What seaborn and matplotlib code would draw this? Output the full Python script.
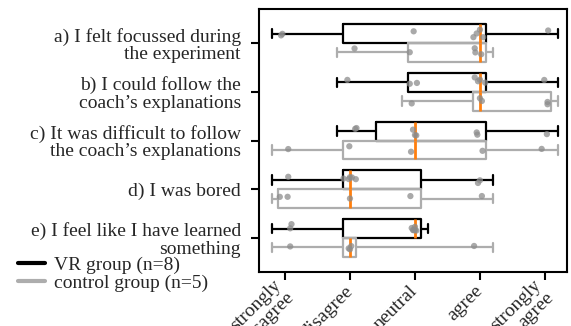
import numpy as np
import pandas as pd
import seaborn as sns
import matplotlib
matplotlib.use("Agg")
import matplotlib.pyplot as plt
from matplotlib.lines import Line2D

questions = [
    "a) I felt focussed during\nthe experiment",
    "b) I could follow the\ncoach\u2019s explanations",
    "c) It was difficult to follow\nthe coach\u2019s explanations",
    "d) I was bored",
    "e) I feel like I have learned\nsomething",
]
scale_labels = ["strongly\ndisagree", "disagree", "neutral", "agree", "strongly\nagree"]
groups = ["VR group (n=8)", "control group (n=5)"]

# box summaries as drawn: whisker low, box low, median, box high, whisker high
vr_boxes = [
    [0.8, 1.9, 4.0, 4.1, 5.2],
    [1.8, 2.9, 4.0, 4.1, 5.2],
    [1.8, 2.4, 3.0, 4.1, 5.2],
    [0.8, 1.9, 2.0, 3.1, 4.2],
    [0.8, 1.9, 3.0, 3.1, 3.2],
]
control_boxes = [
    [1.8, 2.9, 4.0, 4.1, 4.2],
    [2.8, 3.9, 4.0, 5.1, 5.2],
    [0.8, 1.9, 3.0, 4.1, 5.2],
    [0.8, 0.9, 2.0, 3.1, 4.2],
    [0.8, 1.9, 2.0, 2.1, 4.2],
]

# single answers (dots)
vr_answers = [
    [0.96, 0.94, 2.98, 3.95, 3.90, 4.05, 4.00, 5.05],
    [1.96, 2.92, 3.03, 3.92, 4.08, 4.00, 3.97, 4.99],
    [2.08, 2.10, 2.97, 3.00, 3.02, 3.95, 3.96, 5.03],
    [1.05, 1.90, 2.09, 2.00, 2.03, 1.98, 3.97, 4.00],
    [1.08, 1.10, 2.95, 3.00, 2.98, 3.02, 3.00, 2.97],
]
control_answers = [
    [2.07, 2.92, 3.92, 3.93, 4.02],
    [2.95, 4.03, 4.00, 5.04, 5.04],
    [1.05, 1.99, 2.94, 4.04, 4.95],
    [0.92, 1.04, 2.00, 2.93, 4.03],
    [1.08, 2.00, 2.02, 1.98, 3.91],
]


def long_table(vr, ctrl):
    rows = []
    for q, vals in zip(questions, vr):
        rows += [(q, groups[0], v) for v in vals]
    for q, vals in zip(questions, ctrl):
        rows += [(q, groups[1], v) for v in vals]
    return pd.DataFrame(rows, columns=["question", "group", "value"])


box_df = long_table(vr_boxes, control_boxes)
dot_df = long_table(vr_answers, control_answers)

sns.set_theme(style="ticks")
plt.rcParams["font.family"] = ["Liberation Serif", "DejaVu Serif"]
fs = 14

line_colors = {groups[0]: "black", groups[1]: "#adadad"}

fig = plt.figure(figsize=(5.71, 3.26), dpi=100)
ax = fig.add_axes([0.4536, 0.1656, 0.5394, 0.8068])

sns.boxplot(data=box_df, x="value", y="question", hue="group", order=questions,
            hue_order=groups, palette=line_colors, fill=False, whis=np.inf,
            width=0.77, gap=0, linewidth=1.6, orient="h",
            medianprops={"color": "#ff7f0e", "linewidth": 2.0}, legend=False, ax=ax)

np.random.seed(3)
sns.stripplot(data=dot_df, x="value", y="question", hue="group", order=questions,
              hue_order=groups, palette={g: "#8c8c8c" for g in groups}, dodge=True,
              jitter=0.2, size=4.5, alpha=0.75, linewidth=0, orient="h",
              legend=False, zorder=3, ax=ax)

ax.set_xlim(0.6, 5.34)
ax.set_ylim(4.7, -0.7)
ax.set_xticks(range(1, 6))
ax.set_xticklabels(scale_labels, rotation=45, ha="right", va="center",
                   rotation_mode="anchor")
ax.set_xlabel("")
ax.set_ylabel("")
for lab in ax.get_yticklabels() + ax.get_xticklabels():
    lab.set_linespacing(1.03)

for s in ax.spines.values():
    s.set_linewidth(1.5)
    s.set_color("black")
ax.tick_params(axis="both", length=6, width=1.5, color="black", labelsize=fs)
ax.tick_params(axis="y", pad=7)
ax.tick_params(axis="x", pad=6)

handles = [Line2D([], [], color="black", lw=3), Line2D([], [], color="#adadad", lw=3)]
fig.legend(handles, groups, loc="upper left", bbox_to_anchor=(0.018, 0.238),
           frameon=False, fontsize=14, handlelength=1.4, handletextpad=0.45,
           labelspacing=0.0, borderaxespad=0)

fig.savefig("out.png", dpi=100)
